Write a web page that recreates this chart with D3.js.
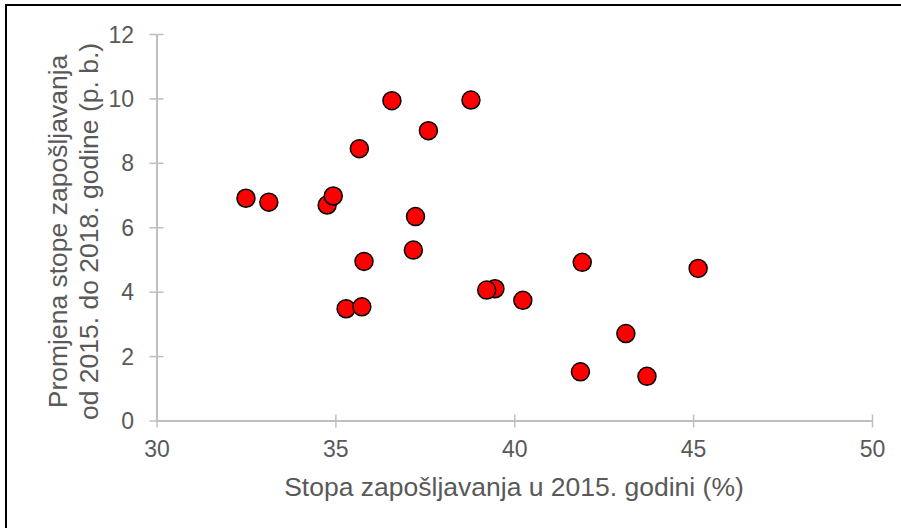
<!DOCTYPE html>
<html><head><meta charset="utf-8">
<script src="https://cdn.jsdelivr.net/npm/d3@7"></script>
<style>body{margin:0;background:#fff}svg{display:block}text{font-family:"Liberation Sans",Arial,sans-serif}</style>
</head><body><svg id="c" width="901" height="528"></svg>
<script>
const xValues = [36.58,38.79,37.60,35.67,32.50,33.14,34.77,34.94,37.24,37.18,35.80,35.30,35.74,41.90,45.14,39.46,39.23,40.24,43.12,41.85,43.71];
const yValues = [9.93,9.95,9.00,8.44,6.90,6.78,6.69,6.97,6.33,5.29,4.94,3.47,3.53,4.91,4.72,4.09,4.05,3.73,2.70,1.51,1.37];
const xTicks = [30,35,40,45,50];
const yTicks = [0,2,4,6,8,10,12];
const xTitle = "Stopa zapošljavanja u 2015. godini (%)";
const yTitle = ["Promjena stope zapošljavanja","od 2015. do 2018. godine (p. b.)"];

const svg = d3.select("#c");
svg.append("rect").attr("x",6).attr("y",5).attr("width",905).attr("height",530)
  .attr("fill","#fff").attr("stroke","#000").attr("stroke-width",2);

const x = d3.scaleLinear().domain([30,50]).range([156.5,872]);
const y = d3.scaleLinear().domain([0,12]).range([420.5,34]);
const axisCol = "#bfbfbf", textCol = "#595959";
const ff = "Liberation Sans, Arial, sans-serif";

const gx = svg.append("g").attr("transform","translate(0,420.5)")
  .call(d3.axisBottom(x).tickValues(xTicks).tickSize(0));
gx.select(".domain").attr("stroke",axisCol).attr("stroke-width",2);
gx.selectAll(".tick").append("line").attr("y1",-6).attr("y2",7).attr("stroke",axisCol).attr("stroke-width",1.5);
gx.selectAll("text").attr("fill",textCol).attr("font-size",23).attr("font-family",ff).attr("y",36.5).attr("dy",0);

const gy = svg.append("g").attr("transform","translate(156.5,0)")
  .call(d3.axisLeft(y).tickValues(yTicks).tickSize(0));
gy.select(".domain").attr("stroke",axisCol).attr("stroke-width",2);
gy.selectAll(".tick").append("line").attr("x1",-7).attr("x2",7).attr("stroke",axisCol).attr("stroke-width",1.5);
gy.selectAll("text").attr("fill",textCol).attr("font-size",23).attr("font-family",ff).attr("x",-22.5).attr("dy","0.35em");

svg.append("text").attr("x",514).attr("y",496).attr("text-anchor","middle")
  .attr("font-size",26.5).attr("fill",textCol).text(xTitle);
const yt = svg.append("text").attr("transform","translate(0,231.5) rotate(-90)")
  .attr("text-anchor","middle").attr("font-size",26.5).attr("fill",textCol);
yTitle.forEach((t,i)=>yt.append("tspan").attr("x",0).attr("y",66.5+i*31).text(t));

svg.append("g").selectAll("circle").data(xValues.map((v,i)=>[v,yValues[i]])).join("circle")
  .attr("cx",d=>x(d[0])).attr("cy",d=>y(d[1])).attr("r",9)
  .attr("fill","#ff0000").attr("stroke","#000").attr("stroke-width",1.5);
</script></body></html>
